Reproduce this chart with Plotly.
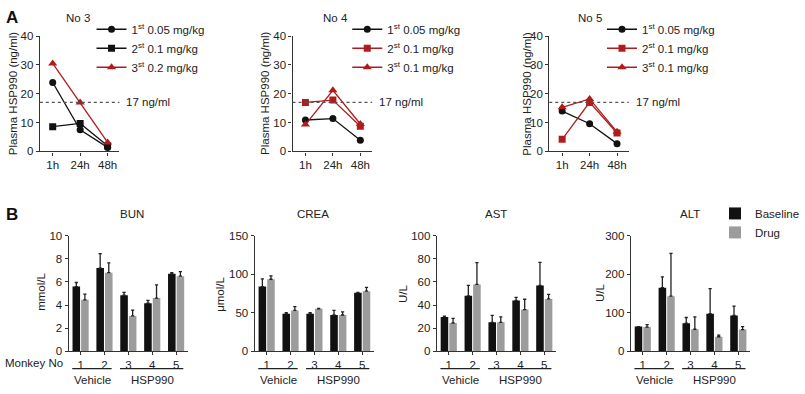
import plotly.graph_objects as go

W, H = 805, 394
def px(x): return x / W
def py(y): return 1 - y / H

FONT = "Liberation Sans, Arial, sans-serif"
TXT = "#222222"
BLACK = "#111111"
RED = "#b01c1c"
GRAY = "#9c9c9c"

# ---------------- Panel A data ----------------
times = ["1h", "24h", "48h"]
no3_dose1 = [23.9, 7.5, 1.4]
no3_dose2 = [8.6, 9.7, 2.0]
no3_dose3 = [30.5, 17.0, 3.1]
no4_dose1 = [10.9, 11.4, 3.9]
no4_dose2 = [17.0, 17.8, 8.7]
no4_dose3 = [9.3, 21.2, 9.5]
no5_dose1 = [14.0, 9.6, 2.7]
no5_dose2 = [4.2, 17.0, 6.4]
no5_dose3 = [15.3, 18.2, 6.8]
no3_labels = ["1<sup>st</sup> 0.05 mg/kg", "2<sup>st</sup> 0.1 mg/kg", "3<sup>st</sup> 0.2 mg/kg"]
no4_labels = ["1<sup>st</sup> 0.05 mg/kg", "2<sup>st</sup> 0.1 mg/kg", "3<sup>st</sup> 0.1 mg/kg"]
no5_labels = ["1<sup>st</sup> 0.05 mg/kg", "2<sup>st</sup> 0.1 mg/kg", "3<sup>st</sup> 0.1 mg/kg"]
threshold = 17

# ---------------- Panel B data ----------------
monkeys = ["1", "2", "3", "4", "5"]
bun_base = [5.6, 7.2, 4.85, 4.15, 6.7]
bun_base_err = [0.35, 1.25, 0.25, 0.25, 0.1]
bun_drug = [4.45, 6.8, 3.05, 4.6, 6.5]
bun_drug_err = [0.5, 0.85, 0.5, 1.15, 0.4]
crea_base = [84, 48.5, 48.5, 47, 76]
crea_base_err = [10, 1.5, 1.5, 6, 0.5]
crea_drug = [93.5, 53, 55, 47, 78]
crea_drug_err = [4.5, 5, 0.5, 4, 5]
ast_base = [29.7, 48, 25, 44, 57]
ast_base_err = [0.6, 9, 6, 2.7, 20]
ast_drug = [24.4, 57.8, 25, 36, 45.3]
ast_drug_err = [4, 19, 4.7, 9, 4]
alt_base = [64, 165, 72.5, 97.5, 93]
alt_base_err = [0, 28, 15, 65, 24]
alt_drug = [62.5, 143, 57, 37.5, 56]
alt_drug_err = [6.5, 111, 32, 4, 8]
groups = [("Vehicle", 0, 1), ("HSP990", 2, 4)]

fig = go.Figure()

# ---- Panel A line charts ----
a_panels = [
    dict(n="", title="No 3", data=[no3_dose1, no3_dose2, no3_dose3], labels=no3_labels,
         colors=[BLACK, BLACK, RED], dom=(40, 120), legend="legend", lx=92, ytitle_x=13, title_x=78),
    dict(n="2", title="No 4", data=[no4_dose1, no4_dose2, no4_dose3], labels=no4_labels,
         colors=[BLACK, RED, RED], dom=(294, 374), legend="legend2", lx=349, ytitle_x=267, title_x=337),
    dict(n="3", title="No 5", data=[no5_dose1, no5_dose2, no5_dose3], labels=no5_labels,
         colors=[BLACK, RED, RED], dom=(552, 632), legend="legend3", lx=605, ytitle_x=530, title_x=593),
]
symbols = ["circle", "square", "triangle-up"]
msizes = [7, 7, 8]

annotations = []
shapes = []
layout_axes = {}

for p in a_panels:
    n = p["n"]
    for vals, lab, col, sym, ms in zip(p["data"], p["labels"], p["colors"], symbols, msizes):
        fig.add_trace(go.Scatter(
            x=times, y=vals, name=lab, mode="lines+markers",
            line=dict(color=col, width=1.3),
            marker=dict(symbol=sym, size=ms, color=col),
            xaxis="x" + n, yaxis="y" + n, legend=p["legend"]))
    layout_axes["xaxis" + n] = dict(
        domain=[px(p["dom"][0]), px(p["dom"][1])], anchor="y" + n, type="category",
        range=[-0.47, 2.43], showline=True, linecolor="#333", linewidth=1.3,
        ticks="outside", ticklen=3, tickcolor="#333", showgrid=False, zeroline=False,
        tickfont=dict(size=11.5, color=TXT, family=FONT), fixedrange=True)
    layout_axes["yaxis" + n] = dict(
        domain=[py(150), py(31)], anchor="x" + n, range=[0, 40],
        tickvals=[0, 10, 20, 30, 40], showline=True, linecolor="#333", linewidth=1.3,
        ticks="outside", ticklen=3, tickcolor="#333", showgrid=False, zeroline=False,
        tickfont=dict(size=11.5, color=TXT, family=FONT), fixedrange=True)
    layout_axes[p["legend"]] = dict(
        x=px(p["lx"]), y=py(9), xanchor="left", yanchor="top",
        bgcolor="rgba(0,0,0,0)", font=dict(size=11.5, color=TXT, family=FONT),
        itemwidth=30, tracegroupgap=0)
    # threshold line
    shapes.append(dict(type="line", xref="x%s domain" % n, yref="y" + n,
                       x0=0, x1=1, y0=threshold, y1=threshold,
                       line=dict(color="#555", width=1.2, dash="dot")))
    annotations.append(dict(text="%d ng/ml" % threshold, xref="x%s domain" % n, yref="y" + n,
                            x=1.06, y=threshold, xanchor="left", yanchor="middle", showarrow=False,
                            font=dict(size=11.5, color=TXT, family=FONT)))
    annotations.append(dict(text=p["title"], xref="paper", yref="paper",
                            x=px(p["title_x"]), y=py(12), xanchor="center", yanchor="middle",
                            showarrow=False, font=dict(size=11.5, color=TXT, family=FONT)))
    annotations.append(dict(text="Plasma HSP990 (ng/ml)", xref="paper", yref="paper",
                            x=px(p["ytitle_x"]), y=py(90), textangle=-90, xanchor="center",
                            yanchor="middle", showarrow=False,
                            font=dict(size=11.5, color=TXT, family=FONT)))

# ---- Panel B bar charts ----
b_panels = [
    dict(n="4", title="BUN", unit="mmol/L", base=bun_base, be=bun_base_err, drug=bun_drug,
         de=bun_drug_err, dom=(69, 189), rng=[0, 10], tv=[0, 2, 4, 6, 8, 10],
         title_x=133, unit_x=41, unit_y=295),
    dict(n="5", title="CREA", unit="μmol/L", base=crea_base, be=crea_base_err, drug=crea_drug,
         de=crea_drug_err, dom=(256, 376), rng=[0, 150], tv=[0, 50, 100, 150],
         title_x=315, unit_x=221, unit_y=297),
    dict(n="6", title="AST", unit="U/L", base=ast_base, be=ast_base_err, drug=ast_drug,
         de=ast_drug_err, dom=(439, 559), rng=[0, 100], tv=[0, 20, 40, 60, 80, 100],
         title_x=498, unit_x=405, unit_y=296),
    dict(n="7", title="ALT", unit="U/L", base=alt_base, be=alt_base_err, drug=alt_drug,
         de=alt_drug_err, dom=(634, 754), rng=[0, 300], tv=[0, 100, 200, 300],
         title_x=693, unit_x=603, unit_y=296),
]

for i, p in enumerate(b_panels):
    n = p["n"]
    for name, vals, errs, col in [("Baseline", p["base"], p["be"], BLACK),
                                  ("Drug", p["drug"], p["de"], GRAY)]:
        fig.add_trace(go.Bar(
            x=monkeys, y=vals, name=name, marker=dict(color=col, line=dict(width=0)),
            error_y=dict(type="data", symmetric=False, array=errs, arrayminus=[0] * len(errs),
                         color="#222", thickness=1.3, width=1.6),
            xaxis="x" + n, yaxis="y" + n, legend="legend4", showlegend=(i == 0)))
    layout_axes["xaxis" + n] = dict(
        domain=[px(p["dom"][0]), px(p["dom"][1])], anchor="y" + n, type="category",
        range=[-0.5, 4.5], showline=True, linecolor="#333", linewidth=1.3,
        ticks="outside", ticklen=3, tickcolor="#333", showgrid=False, zeroline=False,
        tickfont=dict(size=11.5, color=TXT, family=FONT), fixedrange=True)
    layout_axes["yaxis" + n] = dict(
        domain=[py(356), py(237)], anchor="x" + n, range=p["rng"], tickvals=p["tv"],
        showline=True, linecolor="#333", linewidth=1.3, ticks="outside", ticklen=3,
        tickcolor="#333", showgrid=False, zeroline=False,
        tickfont=dict(size=11.5, color=TXT, family=FONT), fixedrange=True)
    annotations.append(dict(text=p["title"], xref="paper", yref="paper",
                            x=px(p["title_x"]), y=py(215), xanchor="center", yanchor="middle",
                            showarrow=False, font=dict(size=11.5, color=TXT, family=FONT)))
    annotations.append(dict(text=p["unit"], xref="paper", yref="paper",
                            x=px(p["unit_x"]), y=py(p["unit_y"]), textangle=-90,
                            xanchor="center", yanchor="middle", showarrow=False,
                            font=dict(size=11.5, color=TXT, family=FONT)))
    for gname, g0, g1 in groups:
        shapes.append(dict(type="line", xref="x" + n, yref="paper",
                           x0=g0 - 0.35, x1=g1 + 0.3, y0=py(374), y1=py(374),
                           line=dict(color="#222", width=1.2)))
        annotations.append(dict(text=gname, xref="x" + n, yref="paper",
                                x=(g0 + g1) / 2, y=py(386), xanchor="center", yanchor="middle",
                                showarrow=False, font=dict(size=11.5, color=TXT, family=FONT)))

layout_axes["legend4"] = dict(
    x=px(719), y=py(199), xanchor="left", yanchor="top", bgcolor="rgba(0,0,0,0)",
    font=dict(size=11.5, color=TXT, family=FONT), itemwidth=30, tracegroupgap=0)

annotations.append(dict(text="Monkey No", xref="paper", yref="paper", x=px(65), y=py(368),
                        xanchor="right", yanchor="middle", showarrow=False,
                        font=dict(size=11.5, color=TXT, family=FONT)))
annotations.append(dict(text="<b>A</b>", xref="paper", yref="paper", x=px(4), y=py(12),
                        xanchor="left", yanchor="middle", showarrow=False,
                        font=dict(size=17, color="#111", family=FONT)))
annotations.append(dict(text="<b>B</b>", xref="paper", yref="paper", x=px(4), y=py(215),
                        xanchor="left", yanchor="middle", showarrow=False,
                        font=dict(size=17, color="#111", family=FONT)))

fig.update_layout(
    width=W, height=H, margin=dict(l=0, r=0, t=0, b=0),
    paper_bgcolor="white", plot_bgcolor="white",
    font=dict(family=FONT, color=TXT, size=11.5),
    barmode="group", bargap=0.28, bargroupgap=0.12,
    annotations=annotations, shapes=shapes, **layout_axes)

fig.write_html("out.html", config={"displayModeBar": False},
               post_script="document.body.style.margin='0';document.body.style.overflow='hidden';")
